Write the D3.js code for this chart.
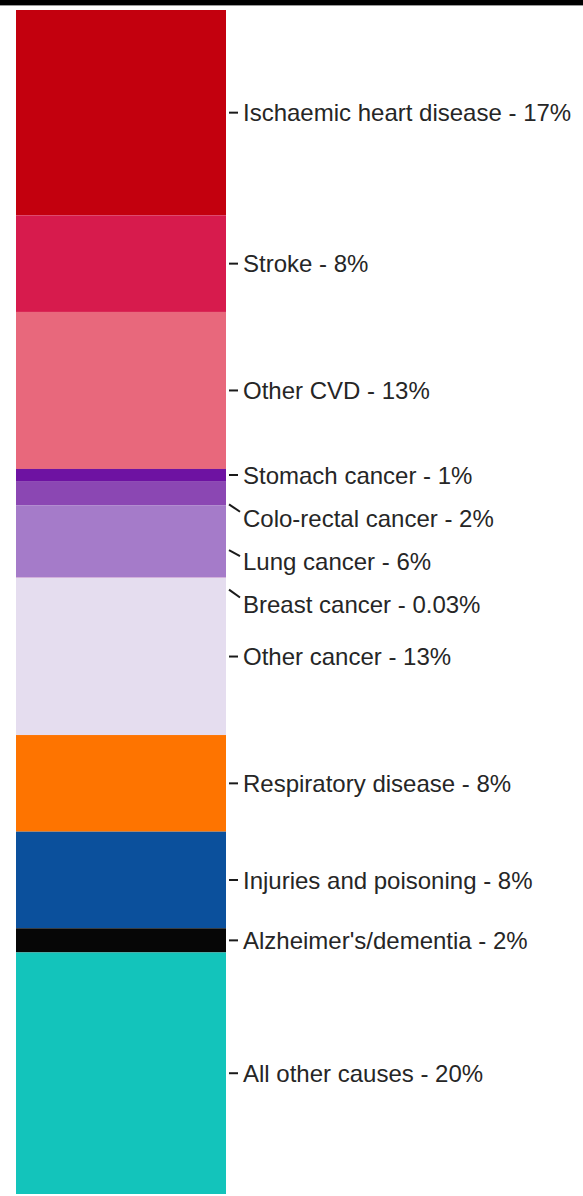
<!DOCTYPE html>
<html>
<head>
<meta charset="utf-8">
<script src="https://cdn.jsdelivr.net/npm/d3@7"></script>
<style>
  html, body { margin: 0; padding: 0; background: #ffffff; }
  svg { display: block; }
</style>
</head>
<body>
<svg id="chart" width="583" height="1196"></svg>
<script>
// Causes of death, share of all deaths (%), stacked top to bottom
const causes = [
  "Ischaemic heart disease", "Stroke", "Other CVD",
  "Stomach cancer", "Colo-rectal cancer", "Lung cancer", "Breast cancer", "Other cancer",
  "Respiratory disease", "Injuries and poisoning", "Alzheimer's/dementia", "All other causes"
];
const shares = [17, 8, 13, 1, 2, 6, 0.03, 13, 8, 8, 2, 20];
const shareLabels = ["17%", "8%", "13%", "1%", "2%", "6%", "0.03%", "13%", "8%", "8%", "2%", "20%"];
const colours = [
  "#c3000e", "#d71b4d", "#e8687c",
  "#6e12a2", "#8b47b3", "#a57bc9", "#efc8dc", "#e5ddef",
  "#fe7400", "#0b509c", "#060606", "#13c4bb"
];

const svg = d3.select("#chart");
const W = 583, H = 1196;

// dark strip along the top edge
svg.append("rect").attr("x", 0).attr("y", 0).attr("width", W).attr("height", 5).attr("fill", "#000");
svg.append("rect").attr("x", 0).attr("y", 5).attr("width", W).attr("height", 1).attr("fill", "#9a9a9a");

const barLeft = 16, barRight = 226, barTop = 10, barBottom = 1194;

// cumulative stacking
const rows = [];
let acc = 0;
causes.forEach((c, i) => {
  rows.push({ name: c, value: shares[i], label: shareLabels[i], colour: colours[i], y0: acc, y1: acc + shares[i] });
  acc += shares[i];
});

const y = d3.scaleLinear().domain([0, acc]).range([barTop, barBottom]);

svg.append("g").selectAll("rect")
  .data(rows)
  .join("rect")
  .attr("x", barLeft)
  .attr("width", barRight - barLeft)
  .attr("y", d => y(d.y0))
  .attr("height", d => Math.max(0, y(d.y1) - y(d.y0)))
  .attr("fill", d => d.colour);

// label placement: start at segment centre, push down to keep labels apart
const gap = 43;
rows.forEach(d => { d.mid = (y(d.y0) + y(d.y1)) / 2; });
let prev = -Infinity;
rows.forEach(d => {
  d.ly = Math.max(d.mid, prev + gap);
  prev = d.ly;
});

const tickX0 = 229, tickX1 = 238, textX = 243;

// short leader ticks; displaced labels get a slanted stub
const labels = svg.append("g");
labels.selectAll("line")
  .data(rows)
  .join("line")
  .attr("x1", tickX0)
  .attr("y1", d => d.ly - (d.ly - d.mid) * 0.55)
  .attr("x2", d => d.ly === d.mid ? tickX1 : tickX1 + 2)
  .attr("y2", d => d.ly - (d.ly - d.mid) * 0.25)
  .attr("stroke", "#1a1a1a")
  .attr("stroke-width", 2);

labels.selectAll("text")
  .data(rows)
  .join("text")
  .attr("x", textX)
  .attr("y", d => d.ly)
  .attr("dy", "0.36em")
  .attr("font-family", "'Liberation Sans', Arial, sans-serif")
  .attr("font-size", 24)
  .attr("fill", "#262626")
  .text(d => `${d.name} - ${d.label}`);
</script>
</body>
</html>
